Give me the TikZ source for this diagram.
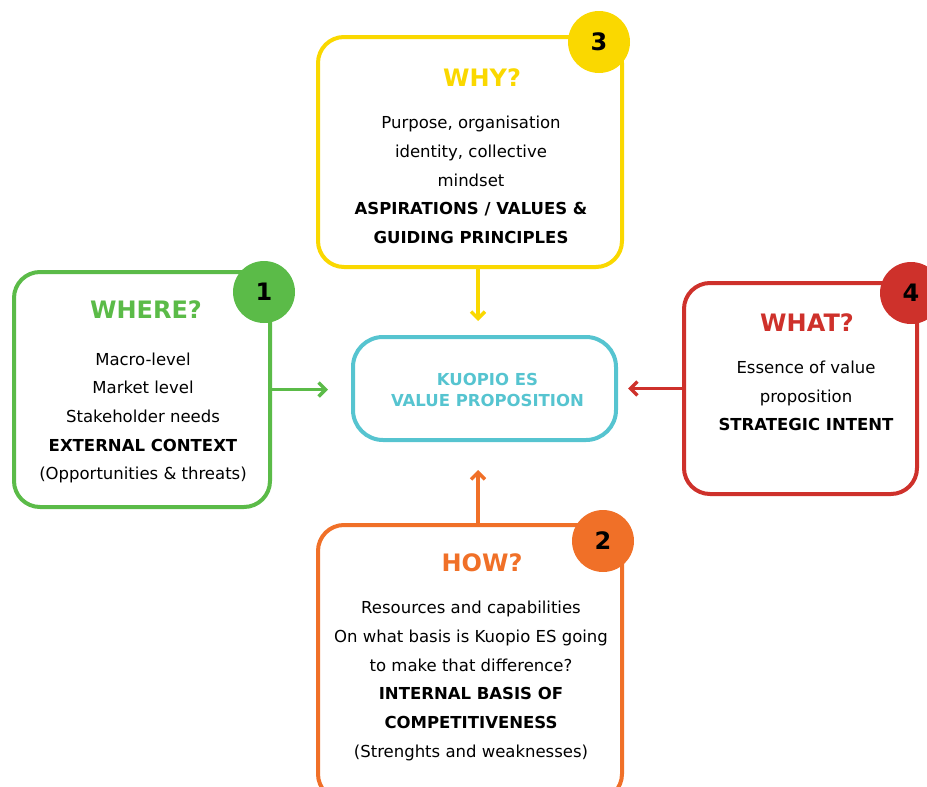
\documentclass[tikz,border=0pt]{standalone}
\usepackage{fontspec}
\setmainfont{DejaVu Sans}
\usetikzlibrary{arrows.meta}
\definecolor{cwhere}{RGB}{91,187,72}
\definecolor{cwhy}{RGB}{250,216,0}
\definecolor{cwhat}{RGB}{206,49,43}
\definecolor{chow}{RGB}{240,112,40}
\definecolor{cvalue}{RGB}{86,196,208}
\begin{document}
\begin{tikzpicture}[x=1pt,y=-1pt,
  box node/.style={rectangle,draw,line width=4pt,rounded corners=26pt,inner sep=0.,outer sep=0.},
  num node/.style={circle,inner sep=0.,minimum size=62pt,font=\fontsize{24}{28}\selectfont\bfseries},
  head node/.style={font=\fontsize{24}{28}\selectfont\bfseries},
  body node/.style={align=center,inner sep=0.,font=\fontsize{16.5}{28.7}\selectfont},
  link/.style={line width=3.5pt,-{Straight Barb[length=7pt,width=14pt]}}]%
  \useasboundingbox (0,0) rectangle (927,787);
  \coordinate (axis) at (478,0);
  % centre
  \node[box node,draw=cvalue,rounded corners=30pt,minimum width=263pt,minimum height=103pt] (value) at (484.5,388.5) {};
  \node[body node,text=cvalue,font=\fontsize{16.5}{21}\selectfont\bfseries] (valuetext) at (487.5,389.5) {KUOPIO ES\\VALUE PROPOSITION};
  % 1 where
  \node[box node,draw=cwhere,minimum width=256pt,minimum height=235pt] (where) at (142,389.5) {};
  \node[num node,fill=cwhere] (n1) at (264,292) {1};
  \node[head node,text=cwhere] (wherehead) at (146,310) {WHERE?};
  \node[body node] (wherebody) at (143,418) {Macro-level\\Market level\\Stakeholder needs\\\textbf{EXTERNAL CONTEXT}\\(Opportunities \& threats)};
  % 3 why
  \node[box node,draw=cwhy,minimum width=304pt,minimum height=230pt] (why) at (470,152) {};
  \node[num node,fill=cwhy] (n3) at (599,42) {3};
  \node[head node,text=cwhy] (whyhead) at (482,78) {WHY?};
  \node[body node] (whybody) at (471,180) {Purpose, organisation\\identity, collective\\mindset\\\textbf{ASPIRATIONS / VALUES \&}\\\textbf{GUIDING PRINCIPLES}};
  % 4 what
  \node[box node,draw=cwhat,minimum width=233pt,minimum height=211pt] (what) at (800.5,388.5) {};
  \node[num node,fill=cwhat] (n4) at (911,293) {4};
  \node[head node,text=cwhat] (whathead) at (807,323) {WHAT?};
  \node[body node] (whatbody) at (806,396) {Essence of value\\proposition\\\textbf{STRATEGIC INTENT}};
  % 2 how
  \node[box node,draw=chow,minimum width=304pt,minimum height=275pt] (how) at (470,662.5) {};
  \node[num node,fill=chow] (n2) at (603,541) {2};
  \node[head node,text=chow] (howhead) at (482,563) {HOW?};
  \node[body node] (howbody) at (471,681) {Resources and capabilities\\On what basis is Kuopio ES going\\to make that difference?\\\textbf{INTERNAL BASIS OF}\\\textbf{COMPETITIVENESS}\\(Strenghts and weaknesses)};
  % arrows
  \draw[link,draw=cwhere,shorten >=25pt] (where.east) -- (where.east -| value.west);
  \draw[link,draw=cwhat,shorten >=12pt] (what.west) -- (what.west -| value.east);
  \draw[link,draw=cwhy,shorten >=16pt] (why.south -| axis) -- (value.north -| axis);
  \draw[link,draw=chow,shorten >=30pt] (how.north -| axis) -- (value.south -| axis);
\end{tikzpicture}
\end{document}
